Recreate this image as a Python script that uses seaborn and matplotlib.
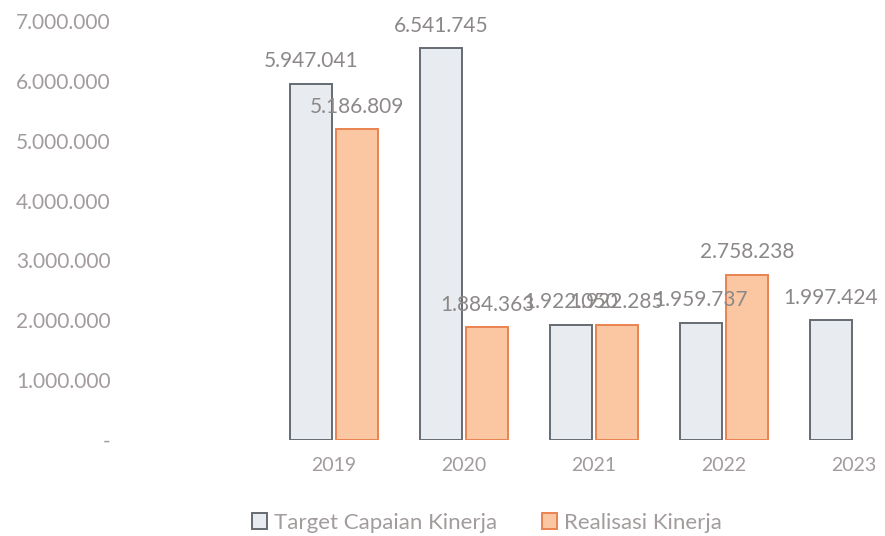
import numpy as np
import pandas as pd
import matplotlib
matplotlib.use("Agg")
import matplotlib.pyplot as plt
import seaborn as sns
from matplotlib.patches import Patch
from matplotlib.ticker import FuncFormatter

# --- data ---
years = ["2019", "2020", "2021", "2022", "2023"]
target = [5947041, 6541745, 1922050, 1959737, 1997424]
realisasi = [5186809, 1884363, 1922285, 2758238, np.nan]
series_names = ["Target Capaian Kinerja", "Realisasi Kinerja"]

df = pd.DataFrame({
    "tahun": years * 2,
    "seri": [series_names[0]] * len(years) + [series_names[1]] * len(years),
    "nilai": target + realisasi,
})

sns.set_theme(style="white")
plt.rcParams["font.family"] = ["Lato", "DejaVu Sans"]

text_grey = "#a29c9c"
label_grey = "#8c8888"
fills = {series_names[0]: "#e8ecf0", series_names[1]: "#fbc7a3"}
edges = {series_names[0]: "#656b72", series_names[1]: "#ea8350"}

fig = plt.figure(figsize=(8.85, 5.36), dpi=100)
ax = fig.add_axes([130 / 885, 96 / 536, 755 / 885, 440 / 536])

sns.barplot(data=df.dropna(), x="tahun", y="nilai", hue="seri", order=years,
            hue_order=series_names, palette=fills, saturation=1, width=0.71, gap=0.1,
            linewidth=1.4, ax=ax, legend=False)

# outline colours + value labels (overlaps in 2021 are in the original too)
for cont, name in zip(ax.containers, series_names):
    for bar in cont:
        bar.set_edgecolor(edges[name])
    vals = target if name == series_names[0] else realisasi
    labels = [f"{v:,.0f}".replace(",", ".") for v in vals if not np.isnan(v)]
    ax.bar_label(cont, labels=labels, padding=9, fontsize=15, color=label_grey)

ax.set_xlim(-1.57, 4.24)
ax.set_ylim(0, 7.35e6)
ax.set_yticks(np.arange(0, 7000001, 1000000))
ax.yaxis.set_major_formatter(FuncFormatter(
    lambda v, p: "-" if v == 0 else f"{v:,.0f}".replace(",", ".")))
ax.tick_params(axis="y", length=0, pad=14, labelsize=15, labelcolor=text_grey)
ax.tick_params(axis="x", length=0, pad=12, labelsize=14, labelcolor=text_grey)
ax.set_xlabel("")
ax.set_ylabel("")
sns.despine(ax=ax, left=True, bottom=True)
ax.set_facecolor("none")

handles = [Patch(facecolor=fills[n], edgecolor=edges[n], linewidth=1.4) for n in series_names]
fig.legend(handles, series_names, loc="center", bbox_to_anchor=(0.55, 0.025),
           ncol=2, frameon=False, fontsize=16, labelcolor=text_grey,
           handlelength=0.7, handleheight=0.7, handletextpad=0.3, columnspacing=2.0)

fig.savefig("out.png", dpi=100)
plt.close(fig)
